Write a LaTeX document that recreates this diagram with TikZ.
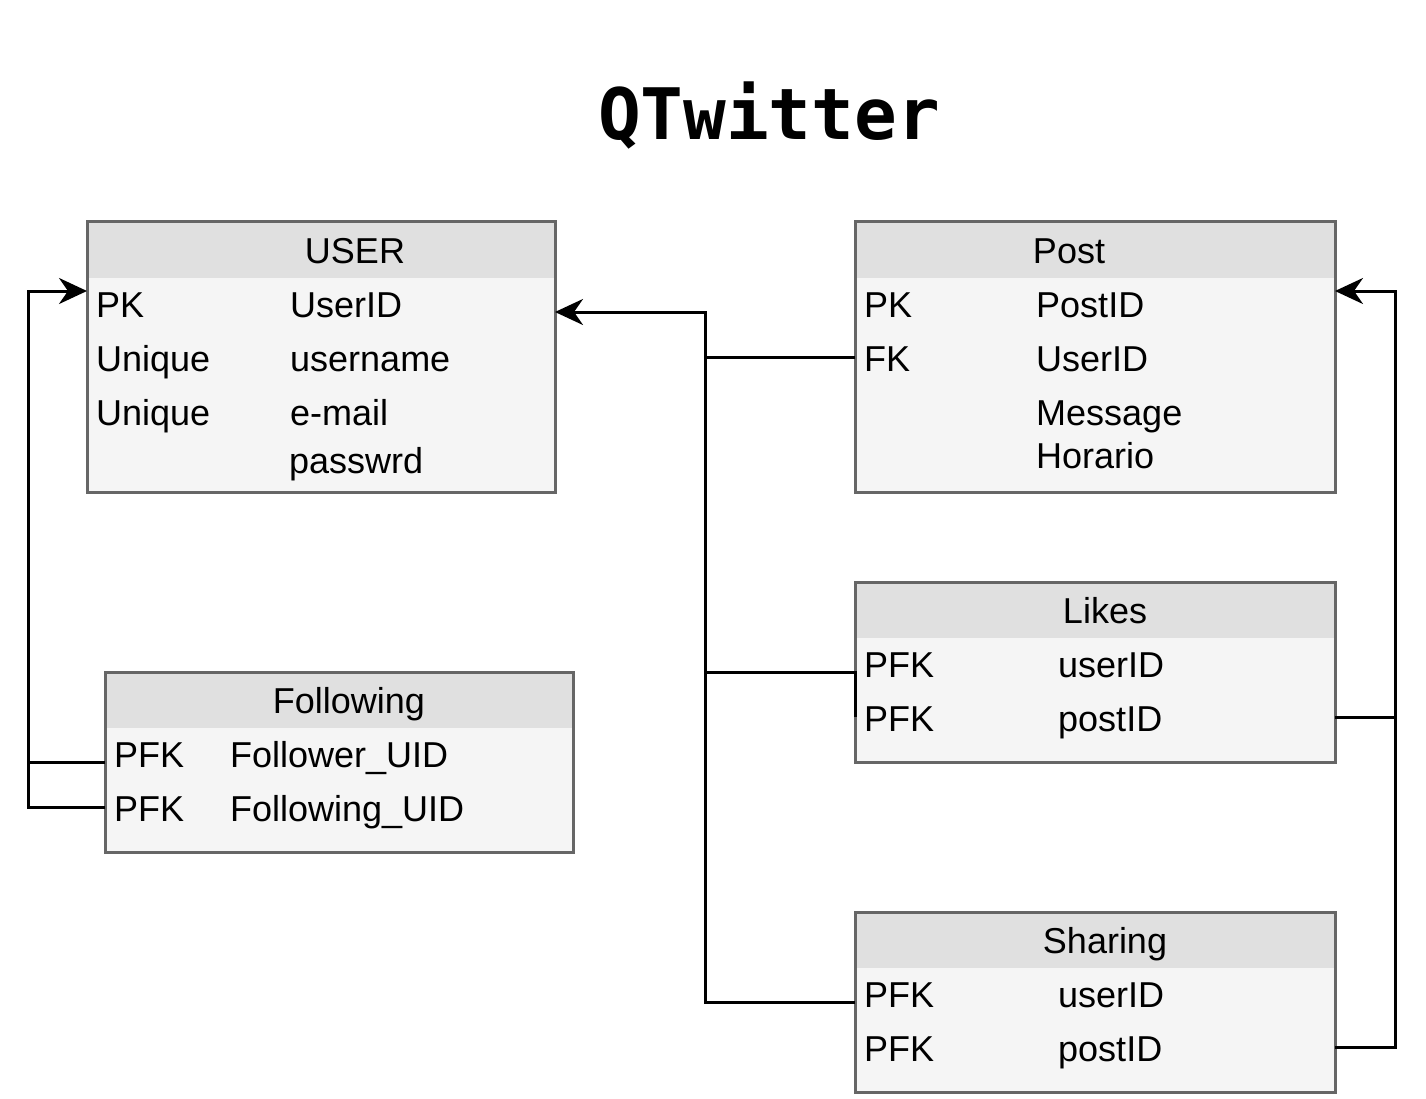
\documentclass[tikz,border=0pt]{standalone}
\usepackage{fontspec}
\setmainfont{Liberation Sans}
\newfontfamily\titlefont{DejaVu Sans Mono}
\usetikzlibrary{arrows.meta}
\definecolor{hdr}{HTML}{E0E0E0}
\definecolor{bdy}{HTML}{F5F5F5}
\definecolor{brd}{HTML}{666666}
\begin{document}
\begin{tikzpicture}[x=1pt,y=-1pt,
  tbl/.style={draw=brd, line width=3pt, fill=bdy, anchor=north west, inner sep=0pt, outer sep=0pt},
  hdrtxt/.style={font=\fontsize{36}{43}\selectfont, anchor=base, inner sep=0pt},
  cell/.style={font=\fontsize{36}{43}\selectfont, anchor=base west, inner sep=0pt},
  conn/.style={line width=3pt, black},
  arr/.style={conn, -{Stealth[length=28pt, width=26pt, inset=9pt]}}
]
\useasboundingbox (0,0) rectangle (1426,1099);
\fill[white] (0,0) rectangle (1426,1099);

% title
\node[font=\titlefont\bfseries\fontsize{71}{80}\selectfont, anchor=base, inner sep=0pt] (title) at (769,140) {QTwitter};

% USER
\node[tbl, minimum width=468pt, minimum height=270pt] (user) at (87,222) {};
\fill[hdr] (88.5,223.5) rectangle (553.5,278);
\draw[brd, line width=3pt] (user.north west) rectangle (user.south east);
\node[hdrtxt] (userh) at (355,263) {USER};
\node[cell] (u1a) at (96,317) {PK};
\node[cell] (u1b) at (290,317) {UserID};
\node[cell] (u2a) at (96,371) {Unique};
\node[cell] (u2b) at (290,371) {username};
\node[cell] (u3a) at (96,425) {Unique};
\node[cell] (u3b) at (290,425) {e-mail};
\node[cell] (u4b) at (289,473) {passwrd};

% Post
\node[tbl, minimum width=480pt, minimum height=270pt] (post) at (855,222) {};
\fill[hdr] (856.5,223.5) rectangle (1333.5,278);
\draw[brd, line width=3pt] (post.north west) rectangle (post.south east);
\node[hdrtxt] (posth) at (1069,263) {Post};
\node[cell] (p1a) at (864,317) {PK};
\node[cell] (p1b) at (1036,317) {PostID};
\node[cell] (p2a) at (864,371) {FK};
\node[cell] (p2b) at (1036,371) {UserID};
\node[cell] (p3b) at (1036,425) {Message};
\node[cell] (p4b) at (1036,468) {Horario};

% Likes
\node[tbl, minimum width=480pt, minimum height=180pt] (likes) at (855,582) {};
\fill[hdr] (856.5,583.5) rectangle (1333.5,638);
\draw[brd, line width=3pt] (likes.north west) rectangle (likes.south east);
\node[hdrtxt] (likesh) at (1105,623) {Likes};
\node[cell] (l1a) at (864,677) {PFK};
\node[cell] (l1b) at (1058,677) {userID};
\node[cell] (l2a) at (864,731) {PFK};
\node[cell] (l2b) at (1058,731) {postID};

% Sharing
\node[tbl, minimum width=480pt, minimum height=180pt] (sharing) at (855,912) {};
\fill[hdr] (856.5,913.5) rectangle (1333.5,968);
\draw[brd, line width=3pt] (sharing.north west) rectangle (sharing.south east);
\node[hdrtxt] (sharingh) at (1105,953) {Sharing};
\node[cell] (s1a) at (864,1007) {PFK};
\node[cell] (s1b) at (1058,1007) {userID};
\node[cell] (s2a) at (864,1061) {PFK};
\node[cell] (s2b) at (1058,1061) {postID};

% Following
\node[tbl, minimum width=468pt, minimum height=180pt] (following) at (105,672) {};
\fill[hdr] (106.5,673.5) rectangle (571.5,728);
\draw[brd, line width=3pt] (following.north west) rectangle (following.south east);
\node[hdrtxt] (followingh) at (349,713) {Following};
\node[cell] (f1a) at (114,767) {PFK};
\node[cell] (f1b) at (230,767) {Follower\_UID};
\node[cell] (f2a) at (114,821) {PFK};
\node[cell] (f2b) at (230,821) {Following\_UID};

% connector anchor coordinates
\coordinate (userPK) at (user.west |- 0,291);
\coordinate (userR) at (user.east |- 0,312);
\coordinate (postFK) at (post.west |- 0,357);
\coordinate (postPK) at (post.east |- 0,291);
\coordinate (likesL) at (likes.west |- 0,672);
\coordinate (likesL2) at (likes.west |- 0,717);
\coordinate (likesR) at (likes.east |- 0,717);
\coordinate (shareL) at (sharing.west |- 0,1002);
\coordinate (shareR) at (sharing.east |- 0,1047);
\coordinate (fol1) at (following.west |- 0,762);
\coordinate (fol2) at (following.west |- 0,807);

% left connectors (Following -> USER)
\draw[arr] (fol1) -- (28,762) -- (28,291) -- (userPK);
\draw[conn] (fol2) -- (28,807) -- (28,760);

% middle connectors (Post/Likes/Sharing -> USER)
\draw[arr] (postFK) -- (705,357) -- (705,312) -- (userR);
\draw[conn] (likesL2) -- (likesL) -- (705,672) -- (705,355);
\draw[conn] (shareL) -- (705,1002) -- (705,670);

% right connectors (Likes/Sharing -> Post)
\draw[arr] (likesR) -- (1395,717) -- (1395,291) -- (postPK);
\draw[conn] (shareR) -- (1395,1047) -- (1395,715);
\end{tikzpicture}
\end{document}
